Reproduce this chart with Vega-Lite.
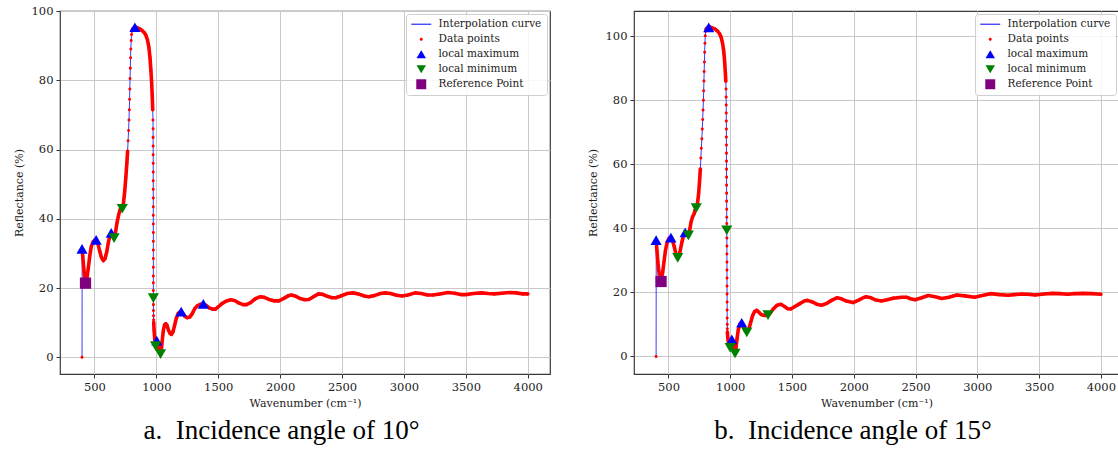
{
  "$schema": "https://vega.github.io/schema/vega-lite/v6.json",
  "background": "white",
  "padding": {"left": 12, "top": 4, "right": 0, "bottom": 0},
  "config": {
    "view": {"stroke": "#3a3a3a", "strokeWidth": 1.2},
    "axis": {
      "labelFont": "DejaVu Serif", "labelFontSize": 11.5, "labelColor": "#222",
      "titleFont": "DejaVu Serif", "titleFontSize": 11, "titleFontWeight": "normal", "titleColor": "#222",
      "tickColor": "#333", "tickSize": 4, "domain": false,
      "gridColor": "#c9c9c9", "gridWidth": 1, "labelPadding": 3
    },
    "legend": {
      "orient": "top-right", "offset": 3, "padding": 5,
      "strokeColor": "#cfcfcf", "fillColor": "rgba(255,255,255,0.85)", "cornerRadius": 3,
      "labelFont": "DejaVu Serif", "labelFontSize": 10.5, "labelColor": "#222",
      "rowPadding": 4, "symbolOffset": 5, "labelOffset": 12, "symbolStrokeWidth": 0, "symbolOpacity": 1, "symbolSize": 90
    },
    "title": {"font": "Liberation Serif", "fontSize": 27, "fontWeight": "normal", "color": "#000", "orient": "bottom", "anchor": "middle", "frame": "bounds", "offset": 9}
  },
  "spacing": 35,
  "resolve": {"scale": {"color": "independent", "shape": "independent"}},
  "datasets": {
    "c10": [
      {"x":400,"y":0},
      {"x":401,"y":31.0,"s":"a"},{"x":406,"y":29.2,"s":"a"},{"x":412,"y":26.5,"s":"a"},{"x":418,"y":24.3,"s":"a"},{"x":425,"y":22.4,"s":"a"},{"x":432,"y":21.8,"s":"a"},{"x":440,"y":22.8,"s":"a"},{"x":450,"y":25.6,"s":"a"},{"x":462,"y":29.2,"s":"a"},{"x":475,"y":32.0,"s":"a"},{"x":490,"y":33.4,"s":"a"},{"x":503,"y":33.9,"s":"a"},{"x":514,"y":33.9,"s":"a"},{"x":528,"y":32.8,"s":"a"},{"x":543,"y":30.6,"s":"a"},{"x":558,"y":28.7,"s":"a"},{"x":572,"y":27.9,"s":"a"},{"x":586,"y":28.5,"s":"a"},{"x":600,"y":30.5,"s":"a"},{"x":614,"y":33.4,"s":"a"},{"x":627,"y":35.3,"s":"a"},{"x":636,"y":35.9,"s":"a"},{"x":646,"y":35.3,"s":"a"},{"x":659,"y":34.4,"s":"a"},{"x":670,"y":36.0,"s":"a"},{"x":682,"y":38.8,"s":"a"},{"x":695,"y":41.0,"s":"a"},{"x":707,"y":42.6,"s":"a"},{"x":716,"y":43.3,"s":"a"},{"x":725,"y":42.9,"s":"a"},{"x":735,"y":44.6,"s":"a"},{"x":745,"y":48.0,"s":"a"},{"x":754,"y":52.0,"s":"a"},{"x":762,"y":56.0,"s":"a"},{"x":768,"y":59.5,"s":"a"},
      {"x":772,"y":62.5},{"x":776,"y":65.5},{"x":779,"y":68.5},{"x":782,"y":71.5},{"x":784,"y":74.5},{"x":786,"y":77.5},{"x":788,"y":80.5},{"x":790,"y":83.5},{"x":792,"y":86.5},{"x":794,"y":89.0},{"x":797,"y":91.5},{"x":800,"y":93.2},
      {"x":803,"y":94.3,"s":"b"},{"x":812,"y":94.9,"s":"b"},{"x":827,"y":95.3,"s":"b"},{"x":842,"y":95.2,"s":"b"},{"x":857,"y":95.0,"s":"b"},{"x":872,"y":94.7,"s":"b"},{"x":887,"y":94.3,"s":"b"},{"x":902,"y":93.8,"s":"b"},{"x":916,"y":93.0,"s":"b"},{"x":929,"y":91.6,"s":"b"},{"x":940,"y":89.5,"s":"b"},{"x":949,"y":86.5,"s":"b"},{"x":956,"y":83.0,"s":"b"},{"x":962,"y":79.5,"s":"b"},{"x":967,"y":75.5,"s":"b"},{"x":971,"y":71.5,"s":"b"},
      {"x":973,"y":68.5},{"x":974,"y":66.0},{"x":974,"y":63.5},{"x":974.5,"y":61.0},{"x":974.5,"y":58.5},{"x":975,"y":56.0},{"x":975,"y":53.5},{"x":975,"y":51.0},{"x":975,"y":48.5},{"x":975.5,"y":46.0},{"x":975.5,"y":43.5},{"x":975.5,"y":41.0},{"x":975.5,"y":38.5},{"x":976,"y":36.0},{"x":976,"y":33.5},{"x":976,"y":31.0},{"x":976,"y":28.5},{"x":976,"y":26.0},{"x":976,"y":23.5},{"x":976,"y":21.5},{"x":976,"y":19.3},{"x":976,"y":17.1},{"x":976.5,"y":15.2},{"x":977,"y":13.5},{"x":977.5,"y":12.0},{"x":978,"y":10.8},
      {"x":979,"y":10.0,"s":"c"},{"x":982,"y":7.8,"s":"c"},{"x":987,"y":5.4,"s":"c"},{"x":993,"y":3.3,"s":"c"},{"x":998,"y":3.7,"s":"c"},{"x":1004,"y":4.8,"s":"c"},{"x":1010,"y":4.3,"s":"c"},{"x":1018,"y":2.6,"s":"c"},{"x":1026,"y":1.3,"s":"c"},{"x":1034,"y":0.9,"s":"c"},{"x":1042,"y":2.6,"s":"c"},{"x":1050,"y":5.6,"s":"c"},{"x":1058,"y":8.0,"s":"c"},{"x":1067,"y":9.4,"s":"c"},{"x":1077,"y":9.7,"s":"c"},{"x":1087,"y":9.2,"s":"c"},{"x":1098,"y":7.9,"s":"c"},{"x":1110,"y":6.9,"s":"c"},{"x":1122,"y":6.6,"s":"c"},{"x":1134,"y":7.3,"s":"c"},{"x":1147,"y":9.1,"s":"c"},{"x":1161,"y":11.2,"s":"c"},{"x":1176,"y":12.6,"s":"c"},{"x":1190,"y":13.1,"s":"c"},{"x":1201,"y":13.2,"s":"c"},{"x":1215,"y":12.6,"s":"c"},{"x":1231,"y":11.8,"s":"c"},{"x":1250,"y":11.4,"s":"c"},{"x":1270,"y":11.6,"s":"c"},{"x":1290,"y":12.6,"s":"c"},{"x":1310,"y":14.0,"s":"c"},{"x":1332,"y":14.9,"s":"c"},{"x":1356,"y":15.3,"s":"c"},{"x":1380,"y":15.4,"s":"c"},{"x":1405,"y":14.9,"s":"c"},{"x":1430,"y":14.2,"s":"c"},{"x":1455,"y":13.9,"s":"c"},{"x":1478,"y":13.9,"s":"c"},{"x":1502,"y":14.6,"s":"c"},{"x":1530,"y":15.5,"s":"c"},{"x":1562,"y":16.2,"s":"c"},{"x":1600,"y":16.6,"s":"c"},{"x":1632,"y":16.4,"s":"c"},{"x":1665,"y":15.7,"s":"c"},{"x":1700,"y":15.2,"s":"c"},{"x":1728,"y":15.2,"s":"c"},{"x":1762,"y":15.8,"s":"c"},{"x":1800,"y":16.9,"s":"c"},{"x":1840,"y":17.5,"s":"c"},{"x":1872,"y":17.3,"s":"c"},{"x":1910,"y":16.7,"s":"c"},{"x":1950,"y":16.3,"s":"c"},{"x":1990,"y":16.3,"s":"c"},{"x":2030,"y":17.0,"s":"c"},{"x":2068,"y":17.8,"s":"c"},{"x":2090,"y":18.0,"s":"c"},{"x":2120,"y":17.7,"s":"c"},{"x":2160,"y":17.0,"s":"c"},{"x":2200,"y":16.6,"s":"c"},{"x":2232,"y":16.7,"s":"c"},{"x":2270,"y":17.5,"s":"c"},{"x":2310,"y":18.3,"s":"c"},{"x":2342,"y":18.2,"s":"c"},{"x":2380,"y":17.6,"s":"c"},{"x":2420,"y":17.2,"s":"c"},{"x":2450,"y":17.2,"s":"c"},{"x":2490,"y":17.7,"s":"c"},{"x":2540,"y":18.4,"s":"c"},{"x":2590,"y":18.6,"s":"c"},{"x":2632,"y":18.3,"s":"c"},{"x":2680,"y":17.7,"s":"c"},{"x":2716,"y":17.5,"s":"c"},{"x":2760,"y":17.8,"s":"c"},{"x":2810,"y":18.4,"s":"c"},{"x":2850,"y":18.6,"s":"c"},{"x":2892,"y":18.4,"s":"c"},{"x":2940,"y":17.9,"s":"c"},{"x":2986,"y":17.7,"s":"c"},{"x":3032,"y":18.0,"s":"c"},{"x":3090,"y":18.6,"s":"c"},{"x":3140,"y":18.4,"s":"c"},{"x":3190,"y":18.0,"s":"c"},{"x":3236,"y":18.0,"s":"c"},{"x":3290,"y":18.3,"s":"c"},{"x":3356,"y":18.7,"s":"c"},{"x":3410,"y":18.5,"s":"c"},{"x":3460,"y":18.1,"s":"c"},{"x":3500,"y":18.1,"s":"c"},{"x":3560,"y":18.4,"s":"c"},{"x":3630,"y":18.6,"s":"c"},{"x":3680,"y":18.4,"s":"c"},{"x":3730,"y":18.3,"s":"c"},{"x":3790,"y":18.5,"s":"c"},{"x":3850,"y":18.7,"s":"c"},{"x":3910,"y":18.6,"s":"c"},{"x":3960,"y":18.3,"s":"c"},{"x":4000,"y":18.3,"s":"c"}
    ],
    "m10": [
      {"x":400,"y":31.3,"k":"max"},{"x":514,"y":33.9,"k":"max"},{"x":636,"y":35.9,"k":"max"},{"x":827,"y":95.3,"k":"max"},{"x":1004,"y":4.8,"k":"max"},{"x":1201,"y":13.2,"k":"max"},{"x":1380,"y":15.4,"k":"max"},
      {"x":659,"y":34.4,"k":"min"},{"x":725,"y":42.9,"k":"min"},{"x":976,"y":17.1,"k":"min"},{"x":994,"y":3.2,"k":"min"},{"x":1034,"y":0.9,"k":"min"},
      {"x":428,"y":21.4,"k":"ref"}
    ],
    "c15": [
      {"x":400,"y":0},
      {"x":401,"y":36.0,"s":"a"},{"x":407,"y":33.0,"s":"a"},{"x":414,"y":29.6,"s":"a"},{"x":421,"y":26.8,"s":"a"},{"x":428,"y":25.0,"s":"a"},{"x":436,"y":24.2,"s":"a"},{"x":444,"y":24.4,"s":"a"},{"x":453,"y":26.2,"s":"a"},{"x":464,"y":29.6,"s":"a"},{"x":476,"y":33.2,"s":"a"},{"x":490,"y":35.8,"s":"a"},{"x":505,"y":36.9,"s":"a"},{"x":520,"y":37.1,"s":"a"},{"x":533,"y":36.2,"s":"a"},{"x":546,"y":34.4,"s":"a"},{"x":558,"y":32.4,"s":"a"},{"x":568,"y":31.1,"s":"a"},{"x":575,"y":30.8,"s":"a"},{"x":585,"y":31.5,"s":"a"},{"x":597,"y":33.4,"s":"a"},{"x":610,"y":35.9,"s":"a"},{"x":623,"y":37.9,"s":"a"},{"x":635,"y":38.7,"s":"a"},{"x":647,"y":38.3,"s":"a"},{"x":661,"y":37.8,"s":"a"},{"x":671,"y":39.4,"s":"a"},{"x":683,"y":42.0,"s":"a"},{"x":695,"y":43.6,"s":"a"},{"x":707,"y":44.5,"s":"a"},{"x":716,"y":45.8,"s":"a"},{"x":725,"y":46.3,"s":"a"},{"x":735,"y":47.8,"s":"a"},{"x":744,"y":50.8,"s":"a"},{"x":752,"y":54.8,"s":"a"},{"x":758,"y":58.5,"s":"a"},
      {"x":762,"y":62.0},{"x":766,"y":65.0},{"x":770,"y":68.0},{"x":774,"y":71.0},{"x":777,"y":74.0},{"x":780,"y":77.0},{"x":783,"y":80.0},{"x":785,"y":83.0},{"x":787,"y":86.0},{"x":789,"y":89.0},{"x":791,"y":92.0},{"x":793,"y":95.0},{"x":795,"y":97.8},{"x":798,"y":100.2},{"x":801,"y":101.6},
      {"x":805,"y":102.3,"s":"b"},{"x":815,"y":102.6,"s":"b"},{"x":826,"y":102.8,"s":"b"},{"x":840,"y":102.8,"s":"b"},{"x":855,"y":102.6,"s":"b"},{"x":870,"y":102.4,"s":"b"},{"x":885,"y":102.0,"s":"b"},{"x":900,"y":101.5,"s":"b"},{"x":914,"y":100.8,"s":"b"},{"x":927,"y":99.6,"s":"b"},{"x":938,"y":97.8,"s":"b"},{"x":947,"y":95.5,"s":"b"},{"x":954,"y":92.5,"s":"b"},{"x":960,"y":89.0,"s":"b"},{"x":964,"y":86.0,"s":"b"},
      {"x":966,"y":83.5},{"x":967,"y":81.0},{"x":967.5,"y":78.5},{"x":968,"y":76.0},{"x":968.5,"y":73.5},{"x":969,"y":71.0},{"x":969,"y":68.5},{"x":969.5,"y":66.0},{"x":969.5,"y":63.5},{"x":970,"y":61.0},{"x":970,"y":58.5},{"x":970.5,"y":56.0},{"x":970.5,"y":53.5},{"x":971,"y":51.0},{"x":971,"y":48.5},{"x":971.5,"y":46.0},{"x":971.5,"y":43.5},{"x":972,"y":41.5},{"x":972,"y":39.4},{"x":972.5,"y":37.0},{"x":973,"y":34.5},{"x":973,"y":32.0},{"x":973.5,"y":29.5},{"x":973.5,"y":27.0},{"x":974,"y":24.5},{"x":974,"y":22.0},{"x":974.5,"y":19.5},{"x":975,"y":17.0},{"x":975,"y":14.5},{"x":975.5,"y":12.0},{"x":976,"y":10.0},{"x":976.5,"y":8.6},
      {"x":977,"y":7.6,"s":"c"},{"x":981,"y":5.6,"s":"c"},{"x":987,"y":3.8,"s":"c"},{"x":993,"y":3.0,"s":"c"},{"x":999,"y":2.7,"s":"c"},{"x":1006,"y":4.0,"s":"c"},{"x":1013,"y":5.3,"s":"c"},{"x":1020,"y":4.5,"s":"c"},{"x":1028,"y":2.5,"s":"c"},{"x":1034,"y":1.3,"s":"c"},{"x":1039,"y":0.9,"s":"c"},{"x":1046,"y":2.5,"s":"c"},{"x":1055,"y":5.5,"s":"c"},{"x":1065,"y":8.3,"s":"c"},{"x":1078,"y":10.1,"s":"c"},{"x":1093,"y":10.5,"s":"c"},{"x":1105,"y":9.6,"s":"c"},{"x":1118,"y":8.2,"s":"c"},{"x":1134,"y":7.5,"s":"c"},{"x":1150,"y":8.5,"s":"c"},{"x":1165,"y":10.5,"s":"c"},{"x":1180,"y":12.6,"s":"c"},{"x":1197,"y":14.0,"s":"c"},{"x":1215,"y":14.4,"s":"c"},{"x":1232,"y":13.8,"s":"c"},{"x":1250,"y":13.1,"s":"c"},{"x":1272,"y":12.8,"s":"c"},{"x":1290,"y":12.8,"s":"c"},{"x":1306,"y":12.9,"s":"c"},{"x":1325,"y":13.6,"s":"c"},{"x":1350,"y":14.9,"s":"c"},{"x":1380,"y":16.0,"s":"c"},{"x":1410,"y":16.3,"s":"c"},{"x":1440,"y":15.6,"s":"c"},{"x":1465,"y":14.9,"s":"c"},{"x":1490,"y":14.8,"s":"c"},{"x":1520,"y":15.5,"s":"c"},{"x":1560,"y":16.4,"s":"c"},{"x":1600,"y":17.3,"s":"c"},{"x":1625,"y":17.5,"s":"c"},{"x":1660,"y":17.1,"s":"c"},{"x":1700,"y":16.3,"s":"c"},{"x":1739,"y":16.0,"s":"c"},{"x":1780,"y":16.5,"s":"c"},{"x":1820,"y":17.5,"s":"c"},{"x":1863,"y":18.3,"s":"c"},{"x":1900,"y":18.0,"s":"c"},{"x":1940,"y":17.3,"s":"c"},{"x":1994,"y":16.8,"s":"c"},{"x":2040,"y":17.6,"s":"c"},{"x":2080,"y":18.4,"s":"c"},{"x":2100,"y":18.6,"s":"c"},{"x":2140,"y":18.3,"s":"c"},{"x":2180,"y":17.6,"s":"c"},{"x":2223,"y":17.3,"s":"c"},{"x":2270,"y":17.7,"s":"c"},{"x":2320,"y":18.2,"s":"c"},{"x":2350,"y":18.3,"s":"c"},{"x":2390,"y":18.5,"s":"c"},{"x":2425,"y":18.5,"s":"c"},{"x":2460,"y":18.0,"s":"c"},{"x":2496,"y":17.7,"s":"c"},{"x":2550,"y":18.3,"s":"c"},{"x":2603,"y":19.0,"s":"c"},{"x":2650,"y":18.7,"s":"c"},{"x":2713,"y":18.1,"s":"c"},{"x":2770,"y":18.5,"s":"c"},{"x":2833,"y":19.2,"s":"c"},{"x":2900,"y":18.9,"s":"c"},{"x":2977,"y":18.5,"s":"c"},{"x":3040,"y":19.0,"s":"c"},{"x":3107,"y":19.6,"s":"c"},{"x":3180,"y":19.3,"s":"c"},{"x":3251,"y":19.1,"s":"c"},{"x":3300,"y":19.3,"s":"c"},{"x":3361,"y":19.5,"s":"c"},{"x":3410,"y":19.4,"s":"c"},{"x":3467,"y":19.2,"s":"c"},{"x":3540,"y":19.5,"s":"c"},{"x":3611,"y":19.7,"s":"c"},{"x":3670,"y":19.6,"s":"c"},{"x":3727,"y":19.4,"s":"c"},{"x":3790,"y":19.6,"s":"c"},{"x":3856,"y":19.7,"s":"c"},{"x":3930,"y":19.6,"s":"c"},{"x":4000,"y":19.4,"s":"c"}
    ],
    "m15": [
      {"x":400,"y":36.3,"k":"max"},{"x":520,"y":37.1,"k":"max"},{"x":635,"y":38.7,"k":"max"},{"x":826,"y":102.8,"k":"max"},{"x":1013,"y":5.3,"k":"max"},{"x":1093,"y":10.5,"k":"max"},
      {"x":575,"y":30.8,"k":"min"},{"x":661,"y":37.8,"k":"min"},{"x":725,"y":46.3,"k":"min"},{"x":972,"y":39.4,"k":"min"},{"x":999,"y":2.7,"k":"min"},{"x":1039,"y":0.9,"k":"min"},{"x":1134,"y":7.5,"k":"min"},{"x":1306,"y":12.9,"k":"min"},
      {"x":440,"y":23.4,"k":"ref"}
    ]
  },
  "hconcat": [
    {
      "width": 490, "height": 363,
      "title": {"text": "a.\u00a0\u00a0Incidence angle of 10°"},
      "layer": [
        {
          "data": {"name": "c10"},
          "mark": {"type": "line", "color": "#3c3cff", "strokeWidth": 1},
          "encoding": {
            "x": {"field": "x", "type": "quantitative", "scale": {"domain": [222, 4180], "nice": false, "zero": false},
                  "axis": {"title": "Wavenumber (cm⁻¹)", "values": [500,1000,1500,2000,2500,3000,3500,4000], "format": "d", "titlePadding": 5}},
            "y": {"field": "y", "type": "quantitative", "scale": {"domain": [-4.83, 100], "nice": false, "zero": false},
                  "axis": {"title": "Reflectance (%)", "values": [0,20,40,60,80,100], "titlePadding": 7}},
            "order": {"value": null}
          }
        },
        {
          "data": {"name": "c10"},
          "transform": [{"filter": "datum.s"}],
          "mark": {"type": "line", "color": "#ff0000", "strokeWidth": 3.6, "strokeJoin": "round", "strokeCap": "round"},
          "encoding": {
            "x": {"field": "x", "type": "quantitative"},
            "y": {"field": "y", "type": "quantitative"},
            "detail": {"field": "s"},
            "order": {"value": null}
          }
        },
        {
          "data": {"name": "c10"},
          "mark": {"type": "point", "filled": true, "opacity": 1, "size": 90},
          "encoding": {
            "x": {"field": "x", "type": "quantitative"},
            "y": {"field": "y", "type": "quantitative"},
            "color": {"datum": "Data points", "type": "nominal", "legend": {"title": null},
                      "scale": {"domain": ["Interpolation curve","Data points","local maximum","local minimum","Reference Point"], "range": ["#3c3cff","#ff0000","#0000ff","#008000","#800080"]}},
            "shape": {"datum": "Data points", "type": "nominal", "legend": {"title": null},
                      "scale": {"domain": ["Interpolation curve","Data points","local maximum","local minimum","Reference Point"], "range": ["M-2.1,-0.14H2.1V0.14H-2.1Z","M0.32,0A0.32,0.32 0 1,1 -0.32,0A0.32,0.32 0 1,1 0.32,0Z","triangle-up","triangle-down","M-1.05,-1.05H1.05V1.05H-1.05Z"]}}
          }
        },
        {
          "data": {"name": "m10"},
          "transform": [{"filter": "datum.k == 'max'"}],
          "mark": {"type": "point", "filled": true, "opacity": 1, "size": 125},
          "encoding": {
            "x": {"field": "x", "type": "quantitative"},
            "y": {"field": "y", "type": "quantitative"},
            "color": {"datum": "local maximum", "type": "nominal", "legend": null},
            "shape": {"datum": "local maximum", "type": "nominal", "legend": null}
          }
        },
        {
          "data": {"name": "m10"},
          "transform": [{"filter": "datum.k == 'min'"}],
          "mark": {"type": "point", "filled": true, "opacity": 1, "size": 125},
          "encoding": {
            "x": {"field": "x", "type": "quantitative"},
            "y": {"field": "y", "type": "quantitative"},
            "color": {"datum": "local minimum", "type": "nominal", "legend": null},
            "shape": {"datum": "local minimum", "type": "nominal", "legend": null}
          }
        },
        {
          "data": {"name": "m10"},
          "transform": [{"filter": "datum.k == 'ref'"}],
          "mark": {"type": "point", "filled": true, "opacity": 1, "size": 115},
          "encoding": {
            "x": {"field": "x", "type": "quantitative"},
            "y": {"field": "y", "type": "quantitative"},
            "color": {"datum": "Reference Point", "type": "nominal", "legend": null},
            "shape": {"datum": "Reference Point", "type": "nominal", "legend": null}
          }
        }
      ]
    },
    {
      "width": 485, "height": 363,
      "title": {"text": "b.\u00a0\u00a0Incidence angle of 15°"},
      "layer": [
        {
          "data": {"name": "c15"},
          "mark": {"type": "line", "color": "#3c3cff", "strokeWidth": 1},
          "encoding": {
            "x": {"field": "x", "type": "quantitative", "scale": {"domain": [221, 4147], "nice": false, "zero": false},
                  "axis": {"title": "Wavenumber (cm⁻¹)", "values": [500,1000,1500,2000,2500,3000,3500,4000], "format": "d", "titlePadding": 5}},
            "y": {"field": "y", "type": "quantitative", "scale": {"domain": [-5.5, 107.9], "nice": false, "zero": false},
                  "axis": {"title": "Reflectance (%)", "values": [0,20,40,60,80,100], "titlePadding": 7}},
            "order": {"value": null}
          }
        },
        {
          "data": {"name": "c15"},
          "transform": [{"filter": "datum.s"}],
          "mark": {"type": "line", "color": "#ff0000", "strokeWidth": 3.6, "strokeJoin": "round", "strokeCap": "round"},
          "encoding": {
            "x": {"field": "x", "type": "quantitative"},
            "y": {"field": "y", "type": "quantitative"},
            "detail": {"field": "s"},
            "order": {"value": null}
          }
        },
        {
          "data": {"name": "c15"},
          "mark": {"type": "point", "filled": true, "opacity": 1, "size": 90},
          "encoding": {
            "x": {"field": "x", "type": "quantitative"},
            "y": {"field": "y", "type": "quantitative"},
            "color": {"datum": "Data points", "type": "nominal", "legend": {"title": null},
                      "scale": {"domain": ["Interpolation curve","Data points","local maximum","local minimum","Reference Point"], "range": ["#3c3cff","#ff0000","#0000ff","#008000","#800080"]}},
            "shape": {"datum": "Data points", "type": "nominal", "legend": {"title": null},
                      "scale": {"domain": ["Interpolation curve","Data points","local maximum","local minimum","Reference Point"], "range": ["M-2.1,-0.14H2.1V0.14H-2.1Z","M0.32,0A0.32,0.32 0 1,1 -0.32,0A0.32,0.32 0 1,1 0.32,0Z","triangle-up","triangle-down","M-1.05,-1.05H1.05V1.05H-1.05Z"]}}
          }
        },
        {
          "data": {"name": "m15"},
          "transform": [{"filter": "datum.k == 'max'"}],
          "mark": {"type": "point", "filled": true, "opacity": 1, "size": 125},
          "encoding": {
            "x": {"field": "x", "type": "quantitative"},
            "y": {"field": "y", "type": "quantitative"},
            "color": {"datum": "local maximum", "type": "nominal", "legend": null},
            "shape": {"datum": "local maximum", "type": "nominal", "legend": null}
          }
        },
        {
          "data": {"name": "m15"},
          "transform": [{"filter": "datum.k == 'min'"}],
          "mark": {"type": "point", "filled": true, "opacity": 1, "size": 125},
          "encoding": {
            "x": {"field": "x", "type": "quantitative"},
            "y": {"field": "y", "type": "quantitative"},
            "color": {"datum": "local minimum", "type": "nominal", "legend": null},
            "shape": {"datum": "local minimum", "type": "nominal", "legend": null}
          }
        },
        {
          "data": {"name": "m15"},
          "transform": [{"filter": "datum.k == 'ref'"}],
          "mark": {"type": "point", "filled": true, "opacity": 1, "size": 115},
          "encoding": {
            "x": {"field": "x", "type": "quantitative"},
            "y": {"field": "y", "type": "quantitative"},
            "color": {"datum": "Reference Point", "type": "nominal", "legend": null},
            "shape": {"datum": "Reference Point", "type": "nominal", "legend": null}
          }
        }
      ]
    }
  ]
}
